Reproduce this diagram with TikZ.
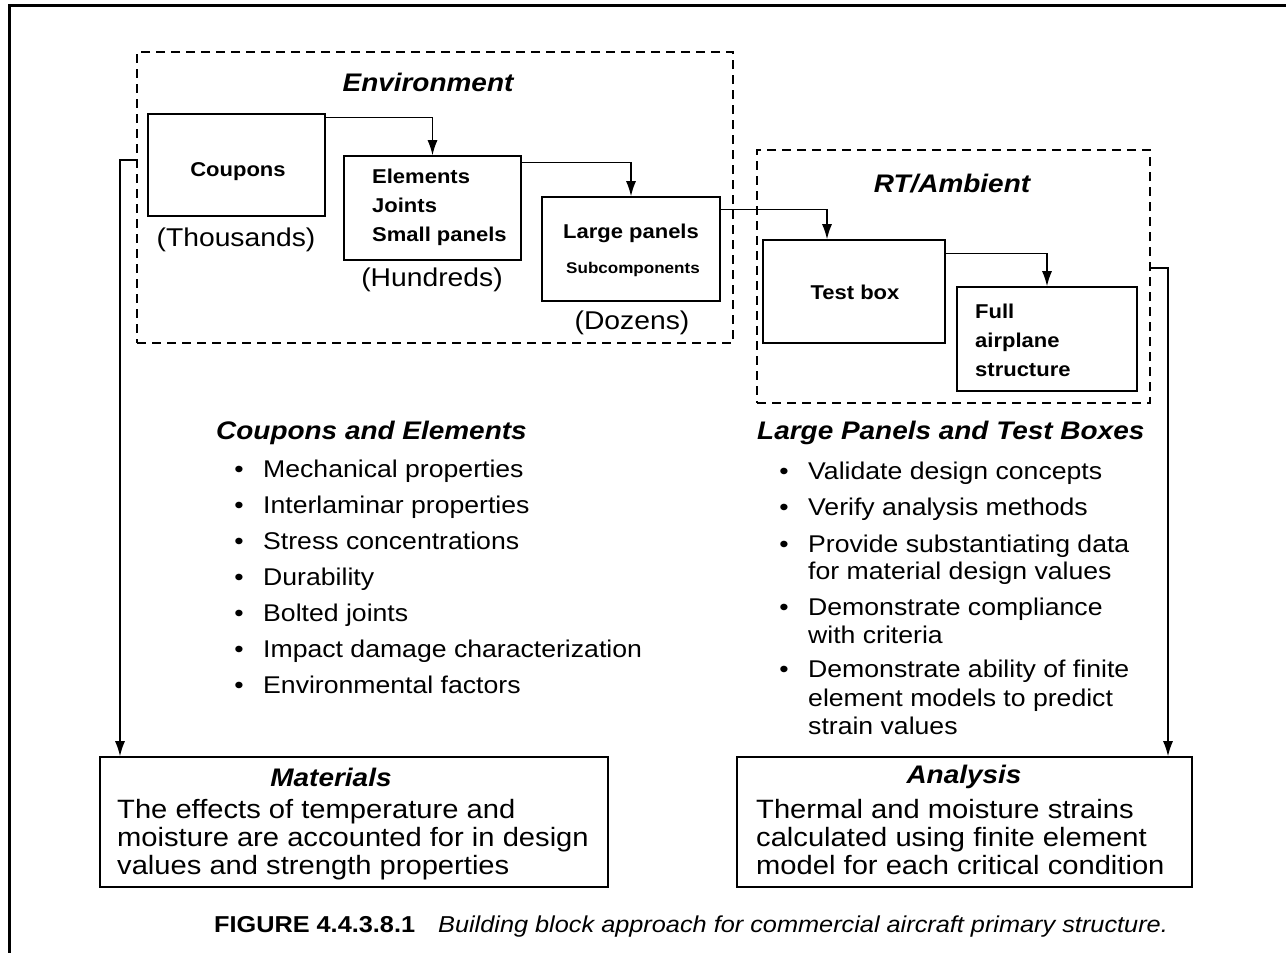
\documentclass[tikz,border=0pt]{standalone}
\usepackage{fontspec}
\setmainfont{Liberation Sans}[FakeStretch=1.1]
\usetikzlibrary{arrows.meta}
\tikzset{
  solidbox/.style={draw, line width=1.6pt, minimum width=#1, inner sep=0pt},
  dbox/.style={draw, dashed, line width=1.3pt, dash pattern=on 9pt off 6pt},
  conn/.style={line width=1.3pt, -{Latex[length=15pt,width=10pt]}},
  lbl/.style={font=\fontsize{20}{29}\selectfont\bfseries, align=left, inner sep=0pt},
  cnt/.style={font=\fontsize{25.7}{28}\selectfont, inner sep=0pt},
  body/.style={font=\fontsize{26.5}{28}\selectfont, inner sep=0pt},
  hdr/.style={font=\fontsize{25.4}{28}\selectfont\bfseries\itshape, inner sep=0pt},
  txt/.style={font=\fontsize{24.2}{28}\selectfont, anchor=base west, inner sep=0pt},
  bul/.style={font=\fontsize{24.2}{28}\selectfont, anchor=base, inner sep=0pt},
}
\begin{document}
\begin{tikzpicture}[x=1pt,y=-1pt]
\useasboundingbox (0,0) rectangle (1286,953);
% outer frame (top and left only)
\draw[line width=3pt] (1290,5) -- (9,5) -- (9,958);

% dashed groups
\node[dbox, minimum width=596, minimum height=291] (env) at (435,197.5) {};
\node[dbox, minimum width=393, minimum height=253] (rt) at (953.5,276.5) {};
\node[hdr] (envt) at (428,82) {Environment};
\node[hdr] (rtt) at (952,184) {RT/Ambient};

% solid boxes
\node[solidbox=177, minimum height=102] (coupons) at (236.5,165) {};
\node[lbl] (couponst) at (238,172) {Coupons};
\node[cnt] (thou) at (236,240) {(Thousands)};

\node[solidbox=177, minimum height=104] (elements) at (432.5,208) {};
\node[lbl, anchor=west] (elementst) at (372,207) {Elements\\Joints\\Small panels};
\node[cnt] (hund) at (432,280) {(Hundreds)};

\node[solidbox=178, minimum height=104] (large) at (631,249) {};
\node[lbl] (larget) at (631,233) {Large panels};
\node[font=\fontsize{15.5}{20}\selectfont\bfseries, inner sep=0pt] (subt) at (633,269) {Subcomponents};
\node[cnt] (doz) at (632,323) {(Dozens)};

\node[solidbox=182, minimum height=103] (test) at (854,291.5) {};
\node[lbl] (testt) at (855,292) {Test box};

\node[solidbox=180, minimum height=104] (full) at (1047,339) {};
\node[lbl, anchor=west] (fullt) at (975,340) {Full\\airplane\\structure};

% connectors
\draw[conn] ([yshift=-4pt]coupons.north east) -| (elements.north);
\draw[conn] ([yshift=-7pt]elements.north east) -| (large.north);
\draw[conn] ([yshift=-13pt]large.north east) -| ([xshift=-27pt]test.north);
\draw[conn] ([yshift=-14pt]test.north east) -| (full.north);

% lower boxes
\node[solidbox=508, minimum height=130] (mat) at (354,822) {};
\node[hdr] (matt) at (331,777) {Materials};
\node[body, anchor=north west, align=left] (matb) at (117,799) {The effects of temperature and\\moisture are accounted for in design\\values and strength properties};

\node[solidbox=455, minimum height=130] (ana) at (964.5,822) {};
\node[hdr] (anat) at (964,777) {Analysis};
\node[body, anchor=north west, align=left] (anab) at (756,799) {Thermal and moisture strains\\calculated using finite element\\model for each critical condition};

\coordinate (lc) at (120,160);
\coordinate (rc) at (1168,268);
\draw[conn] (env.west |- lc) -- (lc) -- (lc |- mat.north);
\draw[conn] (rt.east |- rc) -- (rc) -- (rc |- ana.north);

% left list
\node[hdr, anchor=west] (lh) at (216,433) {Coupons and Elements};
\node[bul] (lb1) at (239,477) {•}; \node[txt] (lt1) at (263,477) {Mechanical properties};
\node[bul] (lb2) at (239,513) {•}; \node[txt] (lt2) at (263,513) {Interlaminar properties};
\node[bul] (lb3) at (239,549) {•}; \node[txt] (lt3) at (263,549) {Stress concentrations};
\node[bul] (lb4) at (239,585) {•}; \node[txt] (lt4) at (263,585) {Durability};
\node[bul] (lb5) at (239,621) {•}; \node[txt] (lt5) at (263,621) {Bolted joints};
\node[bul] (lb6) at (239,657) {•}; \node[txt] (lt6) at (263,657) {Impact damage characterization};
\node[bul] (lb7) at (239,693) {•}; \node[txt] (lt7) at (263,693) {Environmental factors};

% right list
\node[hdr, anchor=west] (rh) at (757,433) {Large Panels and Test Boxes};
\node[bul] (rb1) at (784,479) {•}; \node[txt] (rt1) at (808,479) {Validate design concepts};
\node[bul] (rb2) at (784,515) {•}; \node[txt] (rt2) at (808,515) {Verify analysis methods};
\node[bul] (rb3) at (784,552) {•}; \node[txt] (rt3) at (808,552) {Provide substantiating data};
\node[txt] (rt3b) at (808,579) {for material design values};
\node[bul] (rb4) at (784,615) {•}; \node[txt] (rt4) at (808,615) {Demonstrate compliance};
\node[txt] (rt4b) at (808,643) {with criteria};
\node[bul] (rb5) at (784,677) {•}; \node[txt] (rt5) at (808,677) {Demonstrate ability of finite};
\node[txt] (rt5b) at (808,706) {element models to predict};
\node[txt] (rt5c) at (808,734) {strain values};

% caption
\node[font=\fontsize{23}{28}\selectfont, inner sep=0pt] (cap) at (691,927) {\textbf{FIGURE 4.4.3.8.1}\quad\textit{Building block approach for commercial aircraft primary structure.}};
\end{tikzpicture}
\end{document}
